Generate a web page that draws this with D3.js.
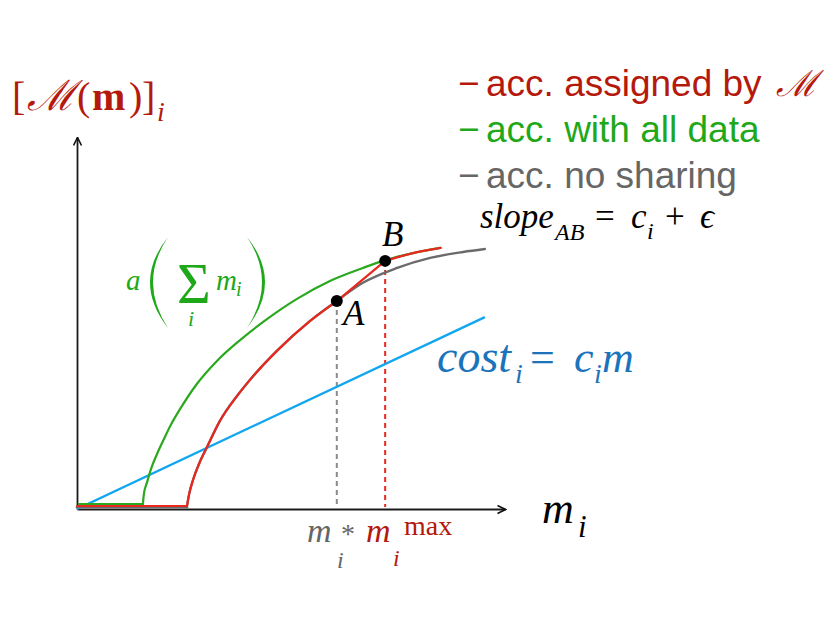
<!DOCTYPE html>
<html><head><meta charset="utf-8">
<script src="https://cdn.jsdelivr.net/npm/d3@7"></script>
<style>body{margin:0;background:#fff} svg{display:block}</style>
</head><body><svg id="c" width="830" height="623"></svg>
<script>
// ---- data (abstract units) ----
const greenFlatX = [0.05, 1.54];
const greenFlatY = [0.13, 0.13];
const greenX = [1.54,1.56,1.64,1.73,1.87,2.01,2.20,2.41,2.80,3.27,3.81,4.35,5.14,5.91,6.68,7.20,7.85,8.48];
const greenY = [0.13,0.38,0.73,1.08,1.48,1.83,2.28,2.69,3.36,3.98,4.54,5.03,5.65,6.13,6.48,6.69,6.88,7.02];
const redFlatX = [0.0, 2.57];
const redFlatY = [0.08, 0.08];
const redRiseX = [2.57,2.62,2.71,2.85,3.04,3.34,3.74,4.04,4.67,5.44,6.07];
const redRiseY = [0.08,0.40,0.78,1.21,1.67,2.37,3.04,3.47,4.25,5.05,5.59];
const redTailX = [7.20,7.85,8.50];
const redTailY = [6.67,6.88,7.02];
const grayFlatX = [0.0, 2.57];
const grayFlatY = [0.05, 0.05];
const grayTailX = [6.07,6.68,7.48,8.25,9.02,9.53];
const grayTailY = [5.59,6.08,6.48,6.75,6.91,6.99];
const blueX = [0.0, 9.53];
const blueY = [0.0, 5.16];
const pointNames = ["A","B"];
const pointX = [6.07, 7.20];
const pointY = [5.59, 6.67];
const legendLabels = ["acc. assigned by ", "acc. with all data", "acc. no sharing"];

// ---- setup ----
const svg = d3.select("#c");
const x = d3.scaleLinear().domain([0,10]).range([77,505]);
const y = d3.scaleLinear().domain([0,10]).range([509,137]);
const C = {red:"#e8281e", redText:"#b5190c", green:"#2aa81e", greenText:"#1fa81a",
           gray:"#6b6b6b", grayText:"#666666", blue:"#12a6f0", blueText:"#1b74bb"};
const serif = "'Liberation Serif','DejaVu Serif',serif";
const sans = "'Liberation Sans',Arial,Helvetica,sans-serif";

const zip = (xs, ys) => xs.map((v,i)=>[v, ys[i]]);
const lineLin = d3.line().x(d=>x(d[0])).y(d=>y(d[1]));
const lineMono = d3.line().x(d=>x(d[0])).y(d=>y(d[1])).curve(d3.curveMonotoneX);

// arrow marker
svg.append("defs").append("marker")
  .attr("id","arr").attr("viewBox","0 0 10 10").attr("refX",9).attr("refY",5)
  .attr("markerWidth",10).attr("markerHeight",10).attr("markerUnits","userSpaceOnUse")
  .attr("orient","auto")
  .append("path").attr("d","M1,1 L9,5 L1,9").attr("fill","none")
  .attr("stroke","#111").attr("stroke-width",1.6);

// axes
const gx = svg.append("g").attr("transform",`translate(0,${y(0)})`)
  .call(d3.axisBottom(x).ticks(0).tickSizeOuter(0));
gx.select(".domain").attr("stroke","#1a1a1a").attr("stroke-width",2).attr("marker-end","url(#arr)");
const gy = svg.append("g").attr("transform",`translate(${x(0)},0)`)
  .call(d3.axisLeft(y).ticks(0).tickSizeOuter(0));
gy.select(".domain").attr("stroke","#1a1a1a").attr("stroke-width",1.8).attr("marker-end","url(#arr)");

// dashed verticals
svg.append("line").attr("x1",x(pointX[0])).attr("x2",x(pointX[0]))
  .attr("y1",y(pointY[0])).attr("y2",y(0)-2)
  .attr("stroke","#8a8a8a").attr("stroke-width",2).attr("stroke-dasharray","5,4");
svg.append("line").attr("x1",x(pointX[1])).attr("x2",x(pointX[1]))
  .attr("y1",y(pointY[1])).attr("y2",y(0)-2)
  .attr("stroke",C.red).attr("stroke-width",2).attr("stroke-dasharray","5,4");

// blue cost line
svg.append("path").attr("d",lineLin(zip(blueX,blueY)))
  .attr("fill","none").attr("stroke",C.blue).attr("stroke-width",2.4);

// gray
const gStyle = p => p.attr("fill","none").attr("stroke",C.gray).attr("stroke-width",2.4).attr("stroke-linecap","round");
svg.append("path").attr("d",lineLin(zip(grayFlatX,grayFlatY))).call(gStyle);
svg.append("path").attr("d",lineMono(zip(redRiseX,redRiseY))).call(gStyle);
svg.append("path").attr("d",lineMono(zip(grayTailX,grayTailY))).call(gStyle);

// green
const grStyle = p => p.attr("fill","none").attr("stroke",C.green).attr("stroke-width",2.2).attr("stroke-linecap","round");
svg.append("path").attr("d",lineLin(zip(greenFlatX,greenFlatY))).call(grStyle);
svg.append("path").attr("d",lineMono(zip(greenX,greenY))).call(grStyle);

// red
const rStyle = p => p.attr("fill","none").attr("stroke",C.red).attr("stroke-width",2.2).attr("stroke-linecap","round");
svg.append("path").attr("d",lineLin(zip(redFlatX,redFlatY))).call(rStyle);
svg.append("path").attr("d",lineMono(zip(redRiseX,redRiseY))).call(rStyle);
svg.append("path").attr("d",lineLin([[pointX[0],pointY[0]],[pointX[1],pointY[1]]])).call(rStyle);
svg.append("path").attr("d",lineMono(zip(redTailX,redTailY))).call(rStyle);

// points
svg.selectAll("circle.pt").data(pointX).join("circle").attr("class","pt")
  .attr("cx",(d)=>x(d)).attr("cy",(d,i)=>y(pointY[i])).attr("r",6).attr("fill","#000");

// ---- text helpers ----
// one <text> per formula, each piece a positioned tspan
function formula(fill, parts) {
  const t = svg.append("text").attr("fill", fill).attr("font-family", serif);
  parts.forEach(p => {
    t.append("tspan").attr("x", p[1]).attr("y", p[2]).text(p[0])
      .attr("font-size", p[3])
      .attr("font-style", p[4] && p[4].includes("i") ? "italic" : "normal")
      .attr("font-weight", p[4] && p[4].includes("b") ? "bold" : "normal")
      .attr("font-family", p[4] && p[4].includes("s") ? sans : serif);
  });
  return t;
}

// point labels
pointNames.forEach((n,i)=>{
  formula("#000", [[n, i===0 ? 343 : 382, i===0 ? 325 : 246, 35, "i"]]);
});

// title [M(m)]_i
formula(C.redText, [
  ["[", 12, 110, 40], ["\u2133", 27, 110, 42, "i"], ["(", 77, 110, 40],
  ["m", 92, 110, 40, "b"], [")", 129, 110, 40], ["]", 142, 110, 40], ["i", 157, 121, 28, "i"]
]);

// legend
const legColors = [C.redText, C.greenText, C.grayText];
const legY = [96, 142, 188];
legendLabels.forEach((s,i)=>{
  const parts = [["\u2212", 458, legY[i], 37, "s"], [s, 486, legY[i], 37, "s"]];
  if (i===0) parts.push(["\u2133", 776, legY[i], 36, "i"]);
  formula(legColors[i], parts);
});

// slope_AB = c_i + eps
formula("#000", [
  ["slope", 480, 228, 35, "i"], ["AB", 555, 240, 24, "i"], ["=", 595, 228, 35],
  ["c", 631, 228, 35, "i"], ["i", 647, 239, 24, "i"], ["+", 665, 228, 35], ["\u03F5", 700, 228, 35, "i"]
]);

// cost_i = c_i m
formula(C.blueText, [
  ["cost", 437, 372, 46, "i"], ["i", 515, 383, 28, "i"], ["=", 530, 372, 44],
  ["c", 574, 372, 44, "i"], ["i", 594, 383, 28, "i"], ["m", 602, 372, 44, "i"]
]);

// a( sum_i m_i )
svg.append("path").attr("d","M168,237 Q132,282 168,328 Q138,282 168,237 Z").attr("fill",C.greenText);
svg.append("path").attr("d","M247,237 Q283,282 247,328 Q277,282 247,237 Z").attr("fill",C.greenText);
formula(C.greenText, [
  ["a", 126, 290, 29, "i"], ["\u03A3", 177, 303, 58], ["i", 188, 326, 22, "i"],
  ["m", 216, 290, 29, "i"], ["i", 236, 296, 20, "i"]
]);

// axis label m_i
formula("#000", [["m", 542, 523, 44, "i"], ["i", 578, 537, 31, "i"]]);

// m_i^*  and  m_i^max
formula(C.grayText, [["m", 307, 542, 34, "i"], ["*", 341, 543, 28], ["i", 337, 568, 24, "i"]]);
formula(C.redText, [["m", 366, 542, 34, "i"], ["max", 404, 535, 28], ["i", 393, 566, 24, "i"]]);
</script></body></html>
